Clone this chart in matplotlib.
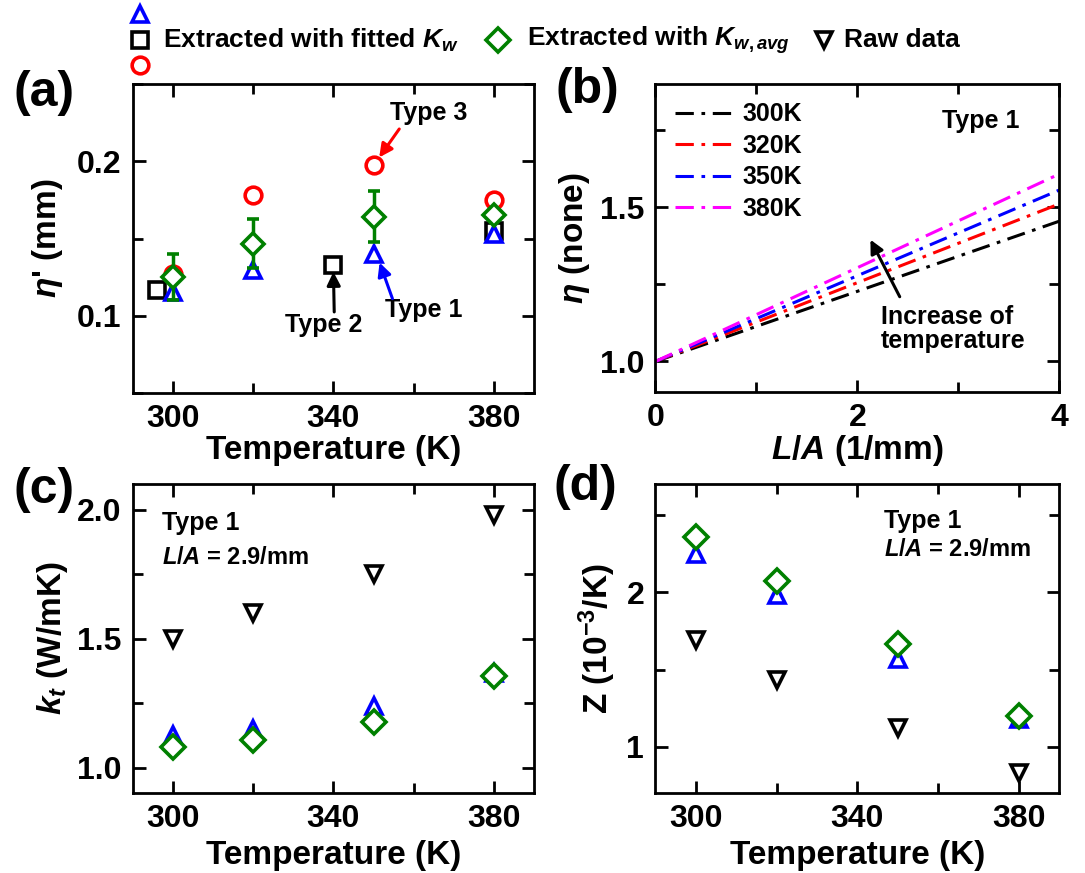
import matplotlib
matplotlib.use("Agg")
import matplotlib.pyplot as plt
from matplotlib.ticker import MultipleLocator, FixedLocator

# ---- data ----
temps = [300, 320, 350, 380]

# (a) eta' (mm)
a_type1 = [0.1155, 0.130, 0.140, 0.153]
a_type2_T = [296, 340, 380]
a_type2 = [0.117, 0.1327, 0.155]
a_type3 = [0.127, 0.178, 0.1977, 0.1747]
a_avg = [0.1252, 0.1467, 0.1643, 0.1656]
a_avg_err = [0.0146, 0.016, 0.0163, 0.003]

# (b) eta vs L/A, straight lines from L/A = 0 to 4
la_ends = [0, 4]
eta_lines = {
    "300K": [1.0, 1.455],
    "320K": [1.0, 1.511],
    "350K": [1.0, 1.556],
    "380K": [1.0, 1.608],
}
line_colors = ["black", "red", "blue", "magenta"]

# (c) k_t (W/mK)
kt_raw = [1.50, 1.60, 1.75, 1.98]
kt_fit = [1.126, 1.15, 1.24, 1.365]
kt_avg = [1.078, 1.106, 1.175, 1.355]

# (d) Z (1e-3/K)
z_raw = [1.693, 1.433, 1.119, 0.831]
z_fit = [2.245, 1.985, 1.569, 1.18]
z_avg = [2.36, 2.071, 1.667, 1.2]

temp_major = [300, 340, 380]
temp_minor = [320, 360]

# ---- style ----
plt.rcParams["font.family"] = ["Liberation Sans", "DejaVu Sans"]
plt.rcParams["font.weight"] = "bold"
plt.rcParams["mathtext.fontset"] = "custom"
plt.rcParams["mathtext.rm"] = "Liberation Sans:bold"
plt.rcParams["mathtext.bf"] = "Liberation Sans:bold"
plt.rcParams["mathtext.it"] = "Liberation Sans:italic:bold"
plt.rcParams["axes.linewidth"] = 2
for ax_ in ("xtick", "ytick"):
    plt.rcParams[ax_ + ".direction"] = "in"
    plt.rcParams[ax_ + ".major.size"] = 9
    plt.rcParams[ax_ + ".major.width"] = 2
    plt.rcParams[ax_ + ".minor.size"] = 7
    plt.rcParams[ax_ + ".minor.width"] = 2
    plt.rcParams[ax_ + ".labelsize"] = 23
    plt.rcParams[ax_ + ".major.pad"] = 8
plt.rcParams["xtick.top"] = True
plt.rcParams["ytick.right"] = True

LABEL_FS = 24
NOTE_FS = 18
MS = 12
MEW = 2.6

fig = plt.figure(figsize=(10.85, 8.73), dpi=100)
ax_a = fig.add_axes([0.1223, 0.5495, 0.370, 0.3543])
ax_b = fig.add_axes([0.604, 0.5506, 0.3723, 0.3532])
ax_c = fig.add_axes([0.1223, 0.0913, 0.370, 0.3543])
ax_d = fig.add_axes([0.604, 0.0913, 0.3723, 0.3543])


def mk(ax, x, y, marker, color, z=3):
    ax.plot(x, y, linestyle="none", marker=marker, ms=MS, mew=MEW,
            mec=color, mfc="white", zorder=z, clip_on=False)


def temp_axis(ax):
    ax.set_xlim(290, 390)
    ax.xaxis.set_major_locator(FixedLocator(temp_major))
    ax.xaxis.set_minor_locator(FixedLocator(temp_minor))
    ax.set_xlabel("Temperature (K)", fontsize=LABEL_FS, fontweight="bold")


def arrow(ax, tail, head, color):
    ax.annotate("", xy=head, xytext=tail,
                arrowprops=dict(arrowstyle="-|>", color=color, lw=2.2,
                                mutation_scale=20, shrinkA=0, shrinkB=0))


# (a)
mk(ax_a, a_type2_T, a_type2, "s", "black", 3)
mk(ax_a, temps, a_type3, "o", "red", 3)
mk(ax_a, temps, a_type1, "^", "blue", 4)
ax_a.errorbar(temps, a_avg, yerr=a_avg_err, fmt="D", ms=MS - 1, mew=MEW,
              mec="green", mfc="white", ecolor="green", elinewidth=2.5,
              capsize=4, capthick=2.5, zorder=5)
temp_axis(ax_a)
ax_a.set_ylim(0.05, 0.25)
ax_a.yaxis.set_major_locator(MultipleLocator(0.1))
ax_a.yaxis.set_minor_locator(MultipleLocator(0.05))
ax_a.set_ylabel(r"$\eta$' (mm)", fontsize=LABEL_FS, fontweight="bold")
ax_a.text(363.7, 0.231, "Type 3", ha="center", va="center",
          fontsize=NOTE_FS, fontweight="bold")
arrow(ax_a, (356.4, 0.2209), (351.4, 0.2025), "red")
ax_a.text(337.6, 0.094, "Type 2", ha="center", va="center",
          fontsize=NOTE_FS, fontweight="bold")
arrow(ax_a, (340.2, 0.1026), (340.0, 0.1285), "black")
ax_a.text(362.5, 0.1037, "Type 1", ha="center", va="center",
          fontsize=NOTE_FS, fontweight="bold")
arrow(ax_a, (354.7, 0.1112), (351.5, 0.1345), "blue")

# (b)
for (lab, vals), col in zip(eta_lines.items(), line_colors):
    ax_b.plot(la_ends, vals, color=col, lw=2.2, linestyle=(0, (6, 2.5, 1.2, 2.5)),
              label=lab)
ax_b.set_xlim(0, 4)
ax_b.set_ylim(0.9, 1.9)
ax_b.xaxis.set_major_locator(MultipleLocator(2))
ax_b.xaxis.set_minor_locator(MultipleLocator(1))
ax_b.yaxis.set_major_locator(MultipleLocator(0.5))
ax_b.yaxis.set_minor_locator(MultipleLocator(0.25))
ax_b.set_xlabel(r"$L/A$ (1/mm)", fontsize=LABEL_FS, fontweight="bold")
ax_b.set_ylabel(r"$\eta$ (none)", fontsize=LABEL_FS, fontweight="bold")
ax_b.legend(loc="upper left", frameon=False, fontsize=NOTE_FS,
            handlelength=2.4, handletextpad=0.3, labelspacing=0.3,
            borderaxespad=0.4, bbox_to_anchor=(0.0, 1.005))
ax_b.text(2.84, 1.78, "Type 1", fontsize=NOTE_FS, fontweight="bold",
          va="center", ha="left")
arrow(ax_b, (2.42, 1.21), (2.13, 1.395), "black")
ax_b.text(2.23, 1.105, "Increase of\ntemperature", fontsize=NOTE_FS,
          fontweight="bold", va="center", ha="left", linespacing=1.0)

# (c)
mk(ax_c, temps, kt_raw, "v", "black")
mk(ax_c, temps, kt_fit, "^", "blue")
mk(ax_c, temps, kt_avg, "D", "green", 4)
temp_axis(ax_c)
ax_c.set_ylim(0.9, 2.1)
ax_c.yaxis.set_major_locator(MultipleLocator(0.5))
ax_c.yaxis.set_minor_locator(MultipleLocator(0.25))
ax_c.set_ylabel(r"$k_t$ (W/mK)", fontsize=LABEL_FS, fontweight="bold")
ax_c.text(297.2, 1.95, "Type 1", fontsize=NOTE_FS, fontweight="bold",
          va="center")
ax_c.text(297.2, 1.813, r"$L/A$ = 2.9/mm", fontsize=NOTE_FS - 1,
          fontweight="bold", va="center")

# (d)
mk(ax_d, temps, z_raw, "v", "black")
mk(ax_d, temps, z_fit, "^", "blue")
mk(ax_d, temps, z_avg, "D", "green", 4)
temp_axis(ax_d)
ax_d.set_ylim(0.7, 2.7)
ax_d.yaxis.set_major_locator(MultipleLocator(1))
ax_d.yaxis.set_minor_locator(MultipleLocator(0.5))
ax_d.set_ylabel(r"Z (10$^{-3}$/K)", fontsize=LABEL_FS, fontweight="bold")
ax_d.text(346.5, 2.46, "Type 1", fontsize=NOTE_FS, fontweight="bold",
          va="center")
ax_d.text(346.5, 2.277, r"$L/A$ = 2.9/mm", fontsize=NOTE_FS - 1,
          fontweight="bold", va="center")

# label positions
ax_a.yaxis.set_label_coords(-0.168, 0.5)
ax_b.yaxis.set_label_coords(-0.157, 0.5)
ax_c.yaxis.set_label_coords(-0.156, 0.5)
ax_d.yaxis.set_label_coords(-0.092, 0.5)
ax_a.xaxis.set_label_coords(0.5, -0.135)
ax_b.xaxis.set_label_coords(0.5, -0.132)
ax_c.xaxis.set_label_coords(0.5, -0.151)
ax_d.xaxis.set_label_coords(0.5, -0.151)

# panel letters
fig.text(14 / 1085, 1 - 93 / 873, "(a)", fontsize=36, fontweight="bold", va="center")
fig.text(555 / 1085, 1 - 90 / 873, "(b)", fontsize=36, fontweight="bold", va="center")
fig.text(14 / 1085, 1 - 490 / 873, "(c)", fontsize=36, fontweight="bold", va="center")
fig.text(553 / 1085, 1 - 487 / 873, "(d)", fontsize=36, fontweight="bold", va="center")

# shared legend along the top (pixel overlay)
lax = fig.add_axes([0, 0, 1, 1], zorder=-1)
lax.set_xlim(0, 1085)
lax.set_ylim(873, 0)
lax.axis("off")
mk(lax, [140], [14], "^", "blue")
mk(lax, [140], [40], "s", "black")
mk(lax, [140], [65], "o", "red")
mk(lax, [498], [40], "D", "green")
mk(lax, [824], [40], "v", "black")
lax.text(163, 40, r"Extracted with fitted $K_w$", fontsize=NOTE_FS + 1,
         fontweight="bold", va="center")
lax.text(527, 40, r"Extracted with $K_{w,avg}$", fontsize=NOTE_FS + 1,
         fontweight="bold", va="center")
lax.text(844, 40, "Raw data", fontsize=NOTE_FS + 1, fontweight="bold", va="center")

fig.savefig("out.png", dpi=100)
